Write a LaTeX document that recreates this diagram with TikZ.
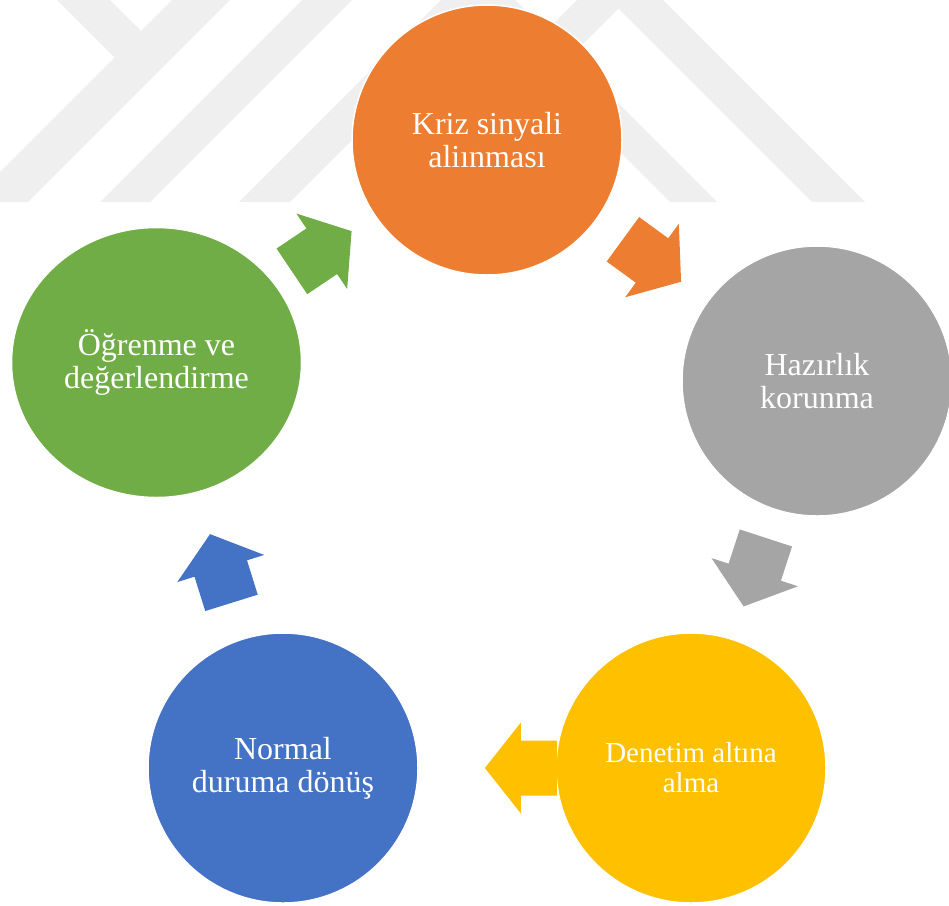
\documentclass[tikz,border=0pt]{standalone}
\usepackage{fontspec}
\setmainfont{Liberation Serif}
\usetikzlibrary{calc,shapes.geometric}

\definecolor{markgray}{HTML}{EFEFEF}
\definecolor{cOrange}{HTML}{ED7D31}
\definecolor{cGray}{HTML}{A5A5A5}
\definecolor{cYellow}{HTML}{FFC000}
\definecolor{cBlue}{HTML}{4472C4}
\definecolor{cGreen}{HTML}{70AD47}

\tikzset{
  stage/.style={circle, draw=white, line width=1.5pt, minimum size=270pt,
    inner sep=0pt, text=white, align=center,
    font=\fontsize{32}{33}\selectfont},
  % block arrow, centred on its own origin, pointing along +x
  pics/cyclearrow/.style={code={
    \fill[#1] (-36,-27.5) -- (0,-27.5) -- (0,-45.5) -- (36,0)
      -- (0,45.5) -- (0,27.5) -- (-36,27.5) -- cycle;
  }},
}

% place a block arrow between two stages, at fraction #3 of the way
\newcommand\stagearrow[4]{%
  \path let \p1=($(#2)-(#1)$), \n1={atan2(\y1,\x1)} in
    pic[rotate=\n1] at ($(#1)!#3!(#2)$) {cyclearrow=#4};
}

\begin{document}
\begin{tikzpicture}[x=1pt, y=-1pt]
\useasboundingbox (0,0) rectangle (949,905);

% faint background emblem
\begin{scope}
  \clip (0,0) rectangle (949,202);
  \fill[markgray] (57,0) -- (110,0) -- (141,31) -- (114.5,57.5) -- cycle;
  \fill[markgray] (172,0) -- (230,0) -- (28,202) -- (-30,202) -- cycle;
  \fill[markgray] (302,0) -- (352,0) -- (150,202) -- (100,202) -- cycle;
  \fill[markgray] (239,202) -- (478,-37) -- (717,202) -- (670,202)
    -- (480,12) -- (290,202) -- cycle;
  \fill[markgray] (375,202) -- (620,-43) -- (865,202) -- (812,202)
    -- (618.5,8.5) -- (425,202) -- cycle;
\end{scope}

% the five stages of the cycle
\node[stage, fill=cOrange] (signal) at (487,140) {Kriz sinyali\\aliınması};
\node[stage, fill=cGray] (prep) at (817,381) {Hazırlık\\korunma};
\node[stage, fill=cYellow, font=\fontsize{29}{30}\selectfont] (control) at (691,768) {Denetim altına\\alma};
\node[stage, fill=cBlue] (normal) at (283,768) {Normal\\duruma dönüş};
\node[stage, shape=ellipse, minimum width=290pt, minimum height=270pt, fill=cGreen] (learn) at (156.5,362.5) {Öğrenme ve\\değerlendirme};

% arrows between consecutive stages
\stagearrow{signal}{prep}{0.5}{cOrange}
\stagearrow{prep}{control}{0.494}{cGray}
\stagearrow{control}{normal}{0.417}{cYellow}
\stagearrow{normal}{learn}{0.492}{cBlue}
\stagearrow{learn}{signal}{0.5}{cGreen}
\end{tikzpicture}
\end{document}
